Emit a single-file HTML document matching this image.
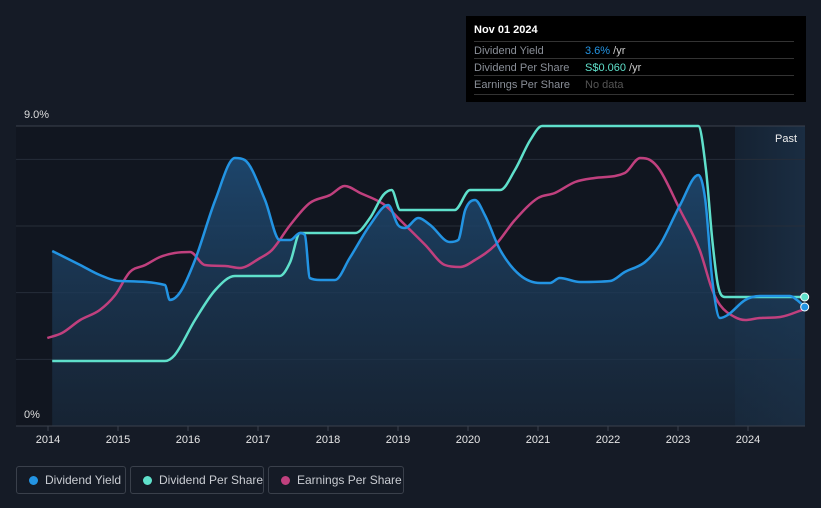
<!DOCTYPE html>
<html><head><meta charset="utf-8"><style>
body{margin:0;background:#151b26;font-family:"Liberation Sans",sans-serif;}
#wrap{position:relative;width:821px;height:508px;overflow:hidden;background:#151b26;}
svg text{font-family:"Liberation Sans",sans-serif;}
.tip{position:absolute;left:466px;top:16px;width:340px;height:86px;background:#000;color:#fff;font-size:11px;}
.tip .row{position:absolute;left:8px;width:320px;border-top:1px solid #333;height:18px;line-height:18px;color:#8a8f98;}
.legend{position:absolute;top:466px;height:28px;border:1px solid #3a404b;border-radius:3px;color:#c9ccd2;font-size:12px;line-height:26px;box-sizing:border-box;padding-left:28px;white-space:nowrap;}
.legend i{position:absolute;left:12px;top:9px;width:9px;height:9px;border-radius:50%;}
</style></head><body>
<div id="wrap">
<svg id="chart" width="821" height="508"></svg>
<div class="tip">
 <div style="position:absolute;left:8px;top:8px;font-weight:bold;font-size:11px">Nov 01 2024</div>
 <div class="row" style="top:25px">Dividend Yield<span style="position:absolute;left:111px;color:#2394e3">3.6%<span style="color:#ccc"> /yr</span></span></div>
 <div class="row" style="top:42px">Dividend Per Share<span style="position:absolute;left:111px;color:#5fe0cb">S$0.060<span style="color:#ccc"> /yr</span></span></div>
 <div class="row" style="top:59px;border-bottom:1px solid #333">Earnings Per Share<span style="position:absolute;left:111px;color:#555">No data</span></div>
</div>
<div class="legend" style="left:16px;width:110px"><i style="background:#2394e3"></i>Dividend Yield</div>
<div class="legend" style="left:130px;width:134px"><i style="background:#5fe0cb"></i>Dividend Per Share</div>
<div class="legend" style="left:268px;width:136px"><i style="background:#c0407e"></i>Earnings Per Share</div>
</div>
<script>
const yieldX=[2014.06,2014.46,2014.74,2015.03,2015.67,2015.74,2015.89,2016.10,2016.39,2016.67,2016.81,2017.10,2017.31,2017.46,2017.60,2017.67,2017.74,2017.89,2018.10,2018.31,2018.60,2018.86,2019.00,2019.10,2019.29,2019.46,2019.74,2019.86,2019.96,2020.10,2020.24,2020.46,2020.74,2021.03,2021.17,2021.31,2021.60,2022.03,2022.24,2022.53,2022.74,2023.03,2023.29,2023.39,2023.49,2023.60,2023.71,2023.96,2024.17,2024.60,2024.70,2024.81];
const yieldV=[5.25,4.83,4.53,4.35,4.23,3.78,4.02,4.98,6.78,8.04,7.98,6.78,5.58,5.58,5.79,5.73,4.44,4.38,4.38,5.04,6.03,6.63,6.03,5.94,6.24,6.03,5.52,5.58,6.48,6.78,6.33,5.28,4.53,4.29,4.29,4.44,4.32,4.35,4.62,4.92,5.43,6.63,7.53,6.78,4.38,3.24,3.33,3.78,3.90,3.90,3.78,3.57];
const dpsX=[2014.06,2015.67,2015.81,2016.10,2016.39,2016.67,2017.31,2017.46,2017.60,2018.39,2018.60,2018.79,2018.91,2019.03,2019.81,2020.03,2020.46,2020.67,2020.89,2021.06,2023.29,2023.40,2023.49,2023.57,2023.67,2024.81];
const dpsV=[1.95,1.95,2.13,3.18,4.08,4.50,4.50,4.92,5.79,5.79,6.24,6.93,7.08,6.48,6.48,7.08,7.08,7.68,8.58,9.0,9.0,7.68,5.58,4.23,3.87,3.87];
const epsX=[2013.99,2014.20,2014.46,2014.74,2014.96,2015.17,2015.39,2015.60,2015.81,2016.03,2016.24,2016.53,2016.74,2017.03,2017.20,2017.46,2017.74,2018.03,2018.24,2018.46,2018.81,2019.03,2019.39,2019.67,2019.89,2020.10,2020.39,2020.67,2021.00,2021.24,2021.53,2021.81,2022.24,2022.46,2022.60,2022.74,2023.03,2023.31,2023.49,2023.60,2023.81,2023.96,2024.17,2024.46,2024.81];
const epsV=[2.64,2.79,3.18,3.48,3.93,4.62,4.83,5.07,5.19,5.22,4.83,4.80,4.74,5.04,5.28,6.03,6.69,6.93,7.20,6.99,6.63,6.18,5.43,4.83,4.77,4.98,5.43,6.18,6.84,6.99,7.32,7.44,7.59,8.04,7.98,7.68,6.48,5.28,4.08,3.63,3.27,3.18,3.24,3.27,3.51];
const xTicks=[2014,2015,2016,2017,2018,2019,2020,2021,2022,2023,2024];
const grid=[2,4,6,8];
const X=y=>48+(y-2014)*70;
const Y=v=>426-v*33.333;
const NS='http://www.w3.org/2000/svg';
const svg=document.getElementById('chart');
function mk(t,a,p){const e=document.createElementNS(NS,t);for(const k in a)e.setAttribute(k,a[k]);(p||svg).appendChild(e);return e;}
function path(xs,vs){
 const p=xs.map((x,i)=>[X(x),Y(vs[i])]);const n=p.length;
 const d=[],m=[];
 for(let i=0;i<n-1;i++)d.push((p[i+1][1]-p[i][1])/(p[i+1][0]-p[i][0]));
 m[0]=d[0];m[n-1]=d[n-2];
 for(let i=1;i<n-1;i++)m[i]=(d[i-1]*d[i]<=0)?0:(d[i-1]+d[i])/2;
 for(let i=0;i<n-1;i++){if(d[i]===0){m[i]=0;m[i+1]=0;continue;}
  const a=m[i]/d[i],b=m[i+1]/d[i],s=a*a+b*b;if(s>9){const t=3/Math.sqrt(s);m[i]=t*a*d[i];m[i+1]=t*b*d[i];}}
 let s='M'+p[0][0]+','+p[0][1];
 for(let i=0;i<n-1;i++){const h=(p[i+1][0]-p[i][0])/3;
  s+=' C'+(p[i][0]+h)+','+(p[i][1]+m[i]*h)+' '+(p[i+1][0]-h)+','+(p[i+1][1]-m[i+1]*h)+' '+p[i+1][0]+','+p[i+1][1];}
 return s;}
const defs=mk('defs',{});
const g1=mk('linearGradient',{id:'fillg',x1:0,y1:0,x2:0,y2:1},defs);
mk('stop',{offset:0,'stop-color':'#1e4a73','stop-opacity':0.9},g1);mk('stop',{offset:1,'stop-color':'#1a2c40','stop-opacity':0.6},g1);
const g2=mk('linearGradient',{id:'pastg',x1:0,y1:0,x2:1,y2:0},defs);
mk('stop',{offset:0,'stop-color':'#152232'},g2);mk('stop',{offset:1,'stop-color':'#1a2d42'},g2);
let e=mk('rect',{x:16,y:126,width:789,height:300,fill:'#111620'});

e=mk('rect',{x:735,y:126,width:70,height:300,fill:'url(#pastg)'});

grid.forEach(v=>{const l=mk('line',{x1:16,x2:805,y1:Y(v),y2:Y(v),stroke:'#262d39','stroke-width':1});
});
e=mk('line',{x1:16,x2:805,y1:126,y2:126,stroke:'#3a414d'});
e=mk('text',{x:24,y:118,fill:'#ddd','font-size':11});e.textContent='9.0%';
e=mk('text',{x:24,y:418,fill:'#ddd','font-size':11});e.textContent='0%';
e=mk('text',{x:797,y:142,fill:'#eee','font-size':11,'text-anchor':'end'});e.textContent='Past';
const yd=path(yieldX,yieldV);
e=mk('path',{d:yd+' L'+X(yieldX[yieldX.length-1])+',426 L'+X(yieldX[0])+',426 Z',fill:'url(#fillg)'});

e=mk('path',{d:path(epsX,epsV),fill:'none',stroke:'#c0407e','stroke-width':2.5});

e=mk('path',{d:path(dpsX,dpsV),fill:'none',stroke:'#5fe0cb','stroke-width':2.5});

e=mk('path',{d:yd,fill:'none',stroke:'#2394e3','stroke-width':2.5});

e=mk('circle',{cx:X(dpsX[dpsX.length-1]),cy:Y(dpsV[dpsV.length-1]),r:4,fill:'#5fe0cb',stroke:'#fff','stroke-width':1});

e=mk('circle',{cx:X(yieldX[yieldX.length-1]),cy:Y(yieldV[yieldV.length-1]),r:4,fill:'#2394e3',stroke:'#fff','stroke-width':1});

e=mk('line',{x1:16,x2:805,y1:426,y2:426,stroke:'#3a414d'});
xTicks.forEach(t=>{const l=mk('line',{x1:X(t),x2:X(t),y1:426,y2:431,stroke:'#3a414d'});

const tx=mk('text',{x:X(t),y:443,fill:'#e6e6e6','font-size':11,'text-anchor':'middle'});tx.textContent=t;
});
</script>
</body></html>
